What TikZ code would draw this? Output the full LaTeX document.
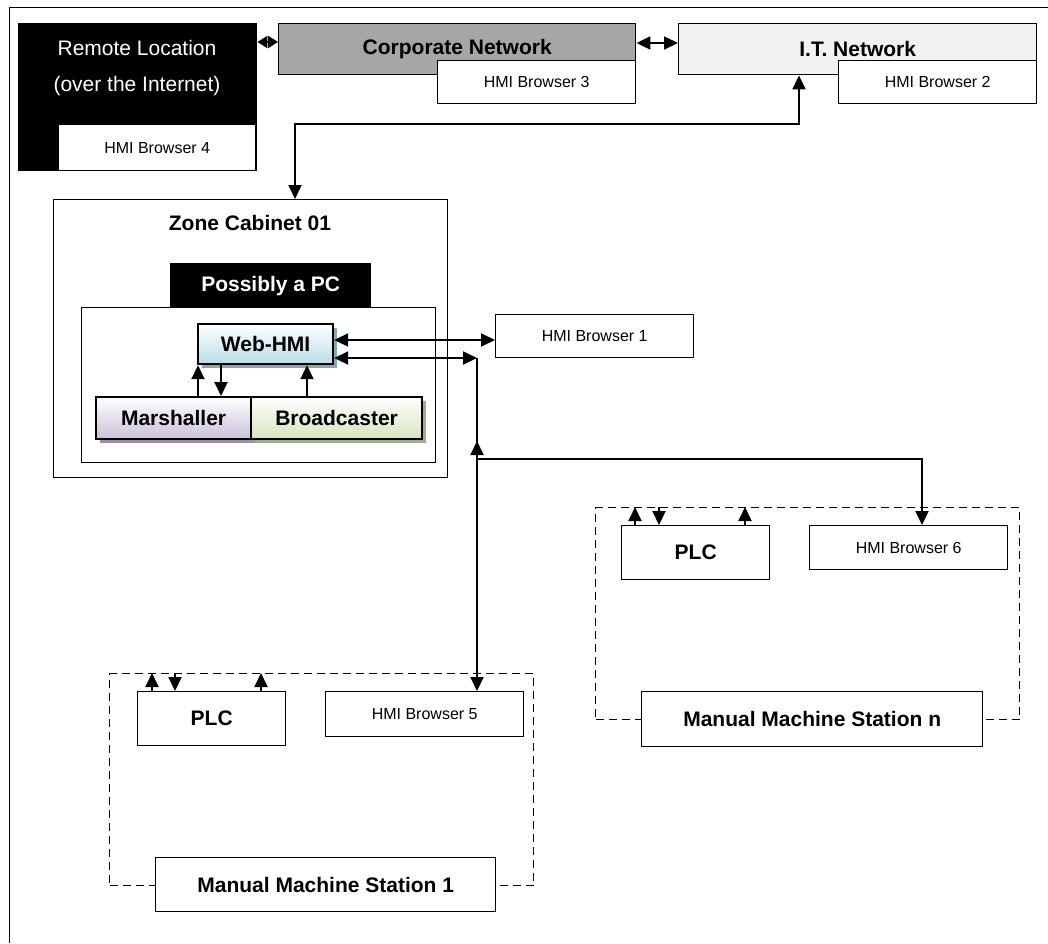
\documentclass[tikz,border=0pt]{standalone}
\usepackage{fontspec}
\setmainfont{Liberation Sans}
\usetikzlibrary{arrows.meta,shadows}

\definecolor{corpgray}{HTML}{A6A6A6}
\definecolor{itgray}{HTML}{F2F2F2}
\definecolor{webblue}{HTML}{B7DDE8}
\definecolor{marshpurple}{HTML}{CCC0DA}
\definecolor{bcastgreen}{HTML}{D7E4BD}

\newcommand{\hmifont}{\fontsize{16}{19}\selectfont}
\newcommand{\tagfont}{\fontsize{21}{25}\selectfont\bfseries}

\begin{document}
\begin{tikzpicture}[x=1pt, y=-1pt,
    box/.style={draw, rectangle, anchor=north west, inner sep=0pt, line width=1.4pt, fill=white},
    hmi/.style={box, font=\hmifont, minimum width=198pt},
    net/.style={box, font=\tagfont, minimum height=51pt},
    part/.style={box, font=\tagfont, line width=2.2pt, minimum height=42pt},
    station/.style={draw, rectangle, anchor=north west, inner sep=0pt, line width=1.4pt, dash pattern=on 8pt off 5pt},
    link/.style={line width=2pt, -{Triangle[length=14pt,width=13pt]}},
    dlink/.style={line width=2pt, {Triangle[length=14pt,width=13pt]}-{Triangle[length=14pt,width=13pt]}}]
    \useasboundingbox (0,0) rectangle (1048,943);
    \draw[line width=0.9pt] (9,943) |- (1048,7);

    % Networks
    \node[box, fill=black, minimum width=238pt, minimum height=147pt] (remote) at (18,23) {};
    \node[text=white, font=\fontsize{21}{25}\selectfont] (remote-1) at (137,48) {Remote Location};
    \node[text=white, font=\fontsize{21}{25}\selectfont] (remote-2) at (137,86) {(over the Internet)};
    \node[hmi, minimum width=197pt, minimum height=46pt] (hmi-4) at (58,124) {HMI Browser 4};

    \node[net, fill=corpgray, minimum width=357pt] (corp) at (278,23) {Corporate Network};
    \node[hmi, minimum height=43pt] (hmi-3) at (437,60) {HMI Browser 3};

    \node[net, fill=itgray, minimum width=358pt] (it) at (678,23) {I.T. Network};
    \node[hmi, minimum height=43pt] (hmi-2) at (838,60) {HMI Browser 2};

    \draw[line width=2pt, {Triangle[length=10pt,width=12pt]}-{Triangle[length=10pt,width=12pt]}]
        ([yshift=-19pt]remote.north east) -- ([yshift=-19pt]corp.north west);
    \draw[dlink] ([yshift=-20pt]corp.north east) -- ([yshift=-20pt]it.north west);

    % Zone cabinet
    \node[box, minimum width=394pt, minimum height=278pt] (zone) at (53,199) {};
    \node[font=\tagfont] (zone-title) at (250,223) {Zone Cabinet 01};
    \node[box, fill=black, text=white, font=\tagfont, minimum width=200pt, minimum height=44pt] (pc-tab) at (170,263) {Possibly a PC};
    \node[box, minimum width=354pt, minimum height=155pt] (pc) at (81,307) {};

    \node[part, top color=white, bottom color=webblue, minimum width=135pt, minimum height=40pt,
          drop shadow={shadow xshift=4pt, shadow yshift=-4pt, fill=webblue!75!black, opacity=1}] (web) at (197,323) {Web-HMI};
    \node[part, top color=white, bottom color=marshpurple, minimum width=155pt,
          drop shadow={shadow xshift=4pt, shadow yshift=-4pt, fill=marshpurple!75!black, opacity=1}] (marsh) at (95,396) {Marshaller};
    \node[part, top color=white, bottom color=bcastgreen, minimum width=171pt,
          drop shadow={shadow xshift=4pt, shadow yshift=-4pt, fill=bcastgreen!75!black, opacity=1}] (bcast) at (250,396) {Broadcaster};

    \draw[link] ([xshift=103pt]marsh.north west) -- ([xshift=1pt]web.south west);
    \draw[link] ([xshift=24pt]web.south west) -- ([xshift=126pt]marsh.north west);
    \draw[link] ([xshift=57pt]bcast.north west) -- ([xshift=110pt]web.south west);

    \node[hmi, minimum height=43pt] (hmi-1) at (495,314) {HMI Browser 1};
    \draw[dlink] ([yshift=-17pt]web.north east) -- ([yshift=-26pt]hmi-1.north west);

    % Link from the I.T. network down to the cabinet
    \draw[dlink] ([xshift=121pt]it.south west) -- ++(0,49) -| ([xshift=242pt]zone.north west);

    % Manual machine station 1
    \node[station, minimum width=424pt, minimum height=212pt] (station-1) at (109,673) {};
    \node[box, font=\tagfont, minimum width=148pt, minimum height=54pt] (plc-1) at (137,691) {PLC};
    \node[hmi, minimum height=45pt] (hmi-5) at (325,691) {HMI Browser 5};
    \node[box, font=\tagfont, minimum width=340pt, minimum height=54pt] (mms-1) at (155,857) {Manual Machine Station 1};
    \draw[link] ([xshift=15pt]plc-1.north west) -- ++(0,-18);
    \draw[link] ([xshift=38pt]plc-1.north west) ++(0,-18) -- ([xshift=38pt]plc-1.north west);
    \draw[link] ([xshift=124pt]plc-1.north west) -- ++(0,-18);

    % Manual machine station n
    \node[station, minimum width=424pt, minimum height=212pt] (station-n) at (595,507) {};
    \node[box, font=\tagfont, minimum width=148pt, minimum height=54pt] (plc-n) at (621,525) {PLC};
    \node[hmi, minimum height=44pt] (hmi-6) at (809,525) {HMI Browser 6};
    \node[box, font=\tagfont, minimum width=341pt, minimum height=55pt] (mms-n) at (641,691) {Manual Machine Station n};
    \draw[link] ([xshift=14pt]plc-n.north west) -- ++(0,-18);
    \draw[link] ([xshift=38pt]plc-n.north west) ++(0,-18) -- ([xshift=38pt]plc-n.north west);
    \draw[link] ([xshift=124pt]plc-n.north west) -- ++(0,-18);

    % Bus from the Web-HMI to both stations
    \coordinate (bus) at (477,358);
    \coordinate (tee) at (477,441);
    \draw[dlink] ([yshift=-35pt]web.north east) -- (bus);
    \draw[link] (bus) -- ([xshift=152pt]hmi-5.north west);
    \draw[dlink] ([xshift=113pt]hmi-6.north west) -- ++(0,-66) -| (tee);
\end{tikzpicture}
\end{document}
